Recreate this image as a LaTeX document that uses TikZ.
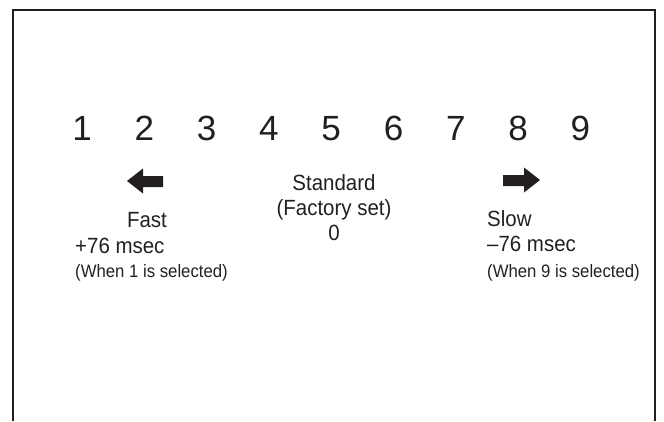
\documentclass[tikz,border=0pt]{standalone}
\usepackage{fontspec}
\setmainfont{Liberation Sans}
\newfontfamily\narrowfont[FakeStretch=0.93]{Liberation Sans}
\definecolor{ink}{HTML}{231F20}
\begin{document}
\begin{tikzpicture}[x=1pt,y=-1pt,
  digit/.style={anchor=base,inner sep=0pt,font=\fontsize{35}{35}\selectfont,text=ink},
  lbl/.style={inner sep=0pt,font=\narrowfont\fontsize{22}{22}\selectfont,text=ink},
  small/.style={inner sep=0pt,font=\narrowfont\fontsize{18}{18}\selectfont,text=ink},
  frame/.style={draw=ink,line width=2.6pt},
  arr/.style={fill=ink,draw=none}]
\useasboundingbox (0,0) rectangle (664,421);
\draw[frame] (13,421) -- (13,10) -- (655,10) -- (655,421);
\foreach \i in {1,...,9}{
  \node[digit] (d\i) at ({82+62.3*(\i-1)},140) {\i};
}
% arrows
\fill[arr] (127,181) -- (143,168.5) -- (143,176) -- (163,176) -- (163,187) -- (143,187) -- (143,193.5) -- cycle;
\fill[arr] (540,180) -- (524,167.5) -- (524,175) -- (503,175) -- (503,186) -- (524,186) -- (524,192.5) -- cycle;
% left labels
\node[lbl,anchor=base] (fast) at (147,227) {Fast};
\node[lbl,anchor=base west] (plus) at (75,253) {+76 msec};
\node[small,anchor=base west] (w1) at (75,277) {(When 1 is selected)};
% center
\node[lbl,anchor=base] (std) at (334,190) {Standard};
\node[lbl,anchor=base] (fac) at (334,215) {(Factory set)};
\node[lbl,anchor=base] (zero) at (334,240) {0};
% right labels
\node[lbl,anchor=base west] (slow) at (487,226) {Slow};
\node[lbl,anchor=base west] (minus) at (487,251) {–76 msec};
\node[small,anchor=base west] (w9) at (487,277) {(When 9 is selected)};
\end{tikzpicture}
\end{document}
